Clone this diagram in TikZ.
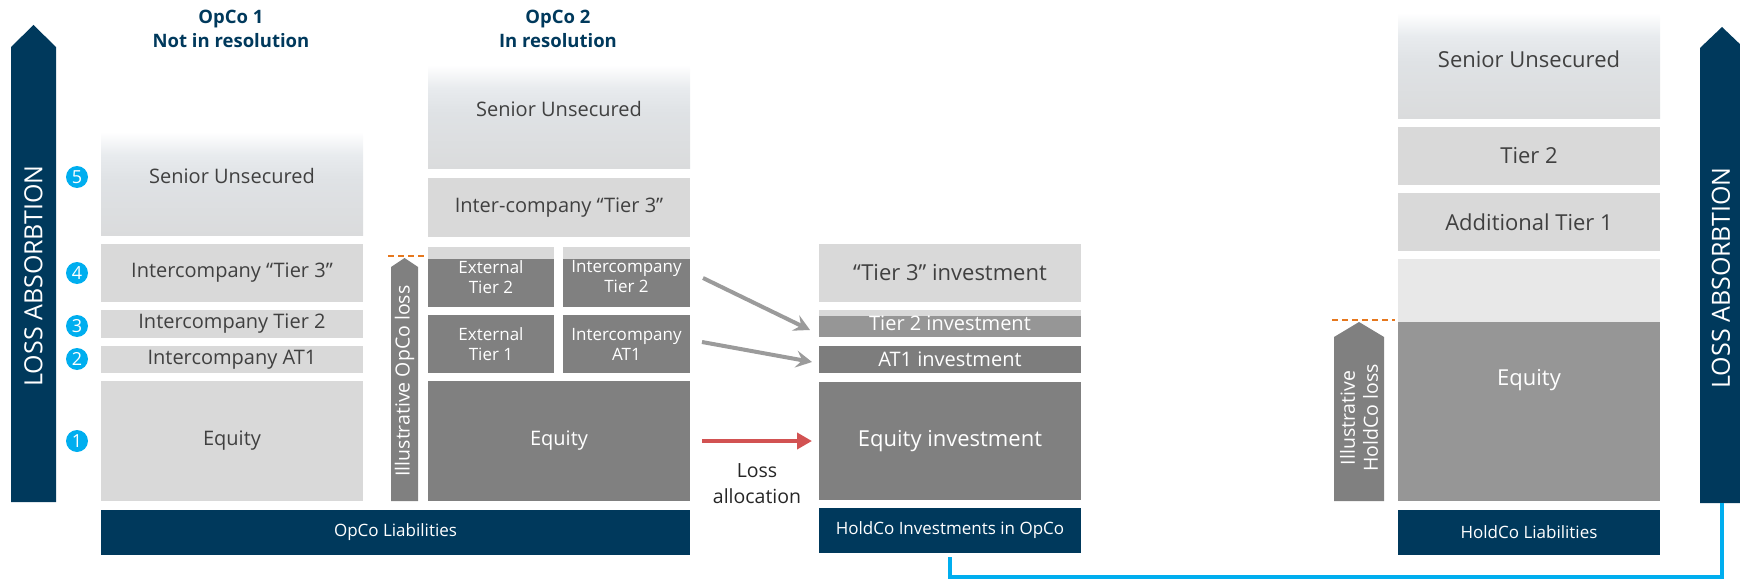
\documentclass[tikz,border=0pt]{standalone}
\usepackage{fontspec}
\setmainfont{Open Sans}
\usetikzlibrary{arrows.meta,calc}
\definecolor{navy}{RGB}{0,57,92}
\definecolor{cyanb}{RGB}{0,174,239}
\definecolor{lgray}{RGB}{217,217,217}
\definecolor{dgray}{RGB}{128,128,128}
\definecolor{mgray}{RGB}{150,150,150}
\definecolor{egray}{RGB}{232,232,232}
\definecolor{txtgray}{RGB}{64,64,64}
\definecolor{lossred}{RGB}{210,82,82}
\definecolor{arrgray}{RGB}{155,155,155}
\definecolor{dashor}{RGB}{230,120,30}
\definecolor{suA}{RGB}{218,219,220}
\definecolor{suB}{RGB}{223,226,229}
\definecolor{suC}{RGB}{232,235,238}
\pgfdeclareverticalshading{sufade}{100bp}{color(0bp)=(suA); color(25bp)=(suA); color(52bp)=(suB); color(64bp)=(suC); color(75bp)=(white); color(100bp)=(white)}
\newcommand\bx[7]{\node[#6, anchor=north west, minimum width={(#4-#2)*1pt}, minimum height={(#5-#3)*1pt}] (#1) at (#2,#3) {#7};}
\tikzset{
 box/.style={inner sep=0pt, outer sep=0pt, align=center, font=\fontsize{20}{24}\selectfont},
 big/.style={font=\fontsize{22}{26}\selectfont},
 light/.style={box, fill=lgray, text=txtgray},
 dark/.style={box, fill=dgray, text=white},
 subox/.style={box, shade, shading=sufade},
 navybar/.style={box, fill=navy, text=white, font=\fontsize{17}{20}\selectfont},
 smalltxt/.style={font=\fontsize{17}{20}\selectfont},
 topstrip/.style={path picture={\fill[lgray] (path picture bounding box.north west) rectangle ([yshift=-#1]path picture bounding box.north east);}},
 sulbl/.style={text=txtgray, font=\fontsize{20}{24}\selectfont},
 numc/.style={circle, fill=cyanb, text=white, minimum size=22pt, inner sep=0pt, font=\fontsize{18}{18}\selectfont},
 title/.style={text=navy, align=center, font=\bfseries\fontsize{18.5}{24}\selectfont},
 bigarrow/.style={fill=navy},
 losstxt/.style={text=white, rotate=90, font=\fontsize{25}{30}\selectfont},
 lossarrow/.style={fill=dgray},
 losslbl/.style={text=white, rotate=90, align=center, font=\fontsize{19.5}{23}\selectfont},
 dashline/.style={draw=dashor, line width=2pt, dash pattern=on 6pt off 4pt},
 garrow/.style={draw=arrgray, line width=4pt, -{Stealth[length=16pt, width=17pt, inset=6pt]}},
 rarrow/.style={draw=lossred, line width=4pt, -{Triangle[length=15pt,width=16pt]}},
 conn/.style={draw=cyanb, line width=4.5pt},
}
\begin{document}
\begin{tikzpicture}[x=1pt,y=-1pt]
\useasboundingbox (0,0) rectangle (1740,580);
\clip (0,0) rectangle (1740,580);

% big loss absorption arrows
\fill[bigarrow] (11,502) -- (11,47) -- (33.5,25) -- (56,47) -- (56,502) -- cycle;
\node[losstxt] (labl) at (33.5,276) {LOSS ABSORBTION};
\fill[bigarrow] (1700,503) -- (1700,48) -- (1722,27) -- (1744,48) -- (1744,503) -- cycle;
\node[losstxt] (labr) at (1721,278) {LOSS ABSORBTION};
\coordinate (rab) at (1722,503);

% titles
\node[title] (t1) at (231,29) {OpCo 1\\Not in resolution};
\node[title] (t2) at (558,29) {OpCo 2\\In resolution};

% numbers
\node[numc] (n5) at (77,177) {5};
\node[numc] (n4) at (77,273) {4};
\node[numc] (n3) at (77,326) {3};
\node[numc] (n2) at (77,359) {2};
\node[numc] (n1) at (77,441) {1};

% OpCo 1
\bx{su1}{101}{132}{363}{236}{subox}{}
\node[sulbl] at ([yshift=8pt]su1.center) {Senior Unsecured};
\bx{t3a}{101}{244}{363}{302}{light}{Intercompany “Tier 3”}
\bx{t2a}{101}{310}{363}{338}{light}{Intercompany Tier 2}
\bx{at1a}{101}{346}{363}{373}{light}{Intercompany AT1}
\bx{eqa}{101}{381}{363}{501}{light}{Equity}
\bx{liab1}{101}{510}{690}{555}{navybar}{OpCo Liabilities}

% Illustrative OpCo loss
\fill[lossarrow] (391,501) -- (391,267) -- (404.5,258) -- (418,267) -- (418,501) -- cycle;
\node[losslbl] (lo1) at (404.5,381) {Illustrative OpCo loss};
\draw[dashline] (388,256) -- (425,256);

% OpCo 2
\bx{su2}{428}{65}{690}{169}{subox}{}
\node[sulbl] at ([yshift=8pt]su2.center) {Senior Unsecured};
\bx{t3b}{428}{178}{690}{237}{light}{Inter-company “Tier 3”}
\bx{et2}{428}{247}{554}{307}{dark,smalltxt,topstrip=12pt}{External\\Tier 2}
\bx{it2}{563}{247}{690}{307}{dark,smalltxt,topstrip=12pt}{Intercompany\\Tier 2}
\bx{et1}{428}{315}{554}{373}{dark,smalltxt}{External\\Tier 1}
\bx{iat1}{563}{315}{690}{373}{dark,smalltxt}{Intercompany\\AT1}
\bx{eqb}{428}{381}{690}{501}{dark}{Equity}

% HoldCo investments in OpCo
\bx{t3i}{819}{244}{1081}{302}{light,big}{“Tier 3” investment}
\bx{t2i}{819}{310}{1081}{337}{box,fill=mgray,text=white,topstrip=6pt}{Tier 2 investment}
\bx{at1i}{819}{346}{1081}{373}{box,fill=dgray!98!black,text=white}{AT1 investment}
\bx{eqi}{819}{382}{1081}{500}{dark,big}{Equity investment}
\bx{hinv}{819}{508}{1081}{553}{navybar}{HoldCo Investments in OpCo}

% arrows
\draw[garrow] ($(it2.east)+(13,1)$) -- ($(t2i.west)+(-9,6.5)$);
\draw[garrow] ($(iat1.east)+(12,-2)$) -- ($(at1i.west)+(-7,2.5)$);
\draw[rarrow] ($(eqb.east)+(12,0)$) -- ($(eqi.west)+(-7,0)$);
\node[text=black!85, align=center, font=\fontsize{19.5}{26}\selectfont] (la) at (757,484) {Loss\\allocation};

% HoldCo
\bx{su3}{1398}{13}{1660}{119}{subox}{}
\node[sulbl, big] at ([yshift=7pt]su3.center) {Senior Unsecured};
\bx{t2h}{1398}{127}{1660}{185}{light,big}{Tier 2}
\bx{at1h}{1398}{193}{1660}{251}{light,big}{Additional Tier 1}
\bx{emp}{1398}{259}{1660}{322}{box,fill=egray}{}
\bx{eqh}{1398}{322}{1660}{501}{box,fill=mgray}{}
\node[text=white, big] (eqhl) at ([yshift=-58pt]eqh.north) {Equity};
\bx{hliab}{1398}{510}{1660}{555}{navybar}{HoldCo Liabilities}

% Illustrative HoldCo loss
\fill[lossarrow] (1334,501) -- (1334,337) -- (1359,322) -- (1384,337) -- (1384,501) -- cycle;
\node[losslbl] (lo2) at (1359,418) {Illustrative\\HoldCo loss};
\draw[dashline] (1332,320) -- (1395,320);

% blue connector
\draw[conn] ([yshift=-4pt]hinv.south) -- ++(0,20) -| (rab);
\end{tikzpicture}
\end{document}
